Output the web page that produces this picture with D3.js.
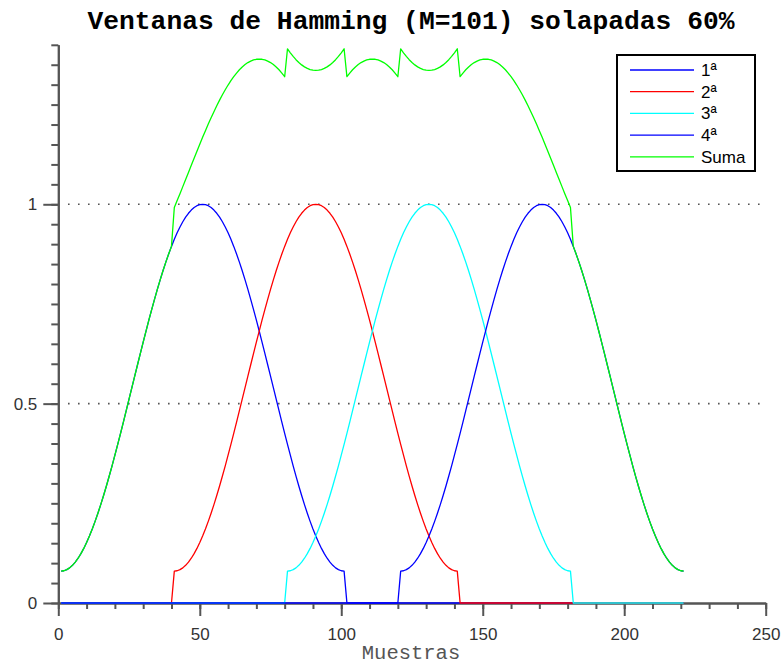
<!DOCTYPE html>
<html>
<head>
<meta charset="utf-8">
<script src="https://cdn.jsdelivr.net/npm/d3@7"></script>
<style>
html,body{margin:0;padding:0;background:#fff;}
</style>
</head>
<body>
<svg id="chart" width="781" height="666"></svg>
<script>
// Hamming window values (M=101), sample n = 0..100
const hamming = [
0.0800,0.0809,0.0836,0.0881,0.0945,0.1025,0.1123,0.1238,0.1369,0.1516,
0.1679,0.1856,0.2047,0.2251,0.2468,0.2696,0.2935,0.3184,0.3441,0.3707,
0.3979,0.4256,0.4538,0.4824,0.5111,0.5400,0.5689,0.5976,0.6262,0.6544,
0.6821,0.7093,0.7359,0.7616,0.7865,0.8104,0.8332,0.8549,0.8753,0.8944,
0.9121,0.9284,0.9431,0.9562,0.9677,0.9775,0.9855,0.9918,0.9964,0.9991,
1.0000,
0.9991,0.9964,0.9918,0.9855,0.9775,0.9677,0.9562,0.9431,0.9284,0.9121,
0.8944,0.8753,0.8549,0.8332,0.8104,0.7865,0.7616,0.7359,0.7093,0.6821,
0.6544,0.6262,0.5976,0.5689,0.5400,0.5111,0.4824,0.4538,0.4256,0.3979,
0.3707,0.3441,0.3184,0.2935,0.2696,0.2468,0.2251,0.2047,0.1856,0.1679,
0.1516,0.1369,0.1238,0.1123,0.1025,0.0945,0.0881,0.0836,0.0809,0.0800
];
const windowStarts = [1, 41, 81, 121];   // first sample of each window
const sampleFirst = 1, sampleLast = 221;
const seriesNames = ["1ª", "2ª", "3ª", "4ª", "Suma"];
const seriesColors = ["#0000ff", "#ff0000", "#00ffff", "#0000ff", "#00ff00"];
const xTicksMajor = [0, 50, 100, 150, 200, 250];
const yTicksMajor = [0, 0.5, 1];
const yGrid = [0.5, 1];

const title = "Ventanas de Hamming (M=101) solapadas 60%";
const xLabel = "Muestras";

// build series
const samples = d3.range(sampleFirst, sampleLast + 1);
const windows = windowStarts.map(s => samples.map(x => {
  const n = x - s;
  return {x, y: (n >= 0 && n < hamming.length) ? hamming[n] : 0};
}));
const suma = samples.map((x, i) => ({x, y: d3.sum(windows, w => w[i].y)}));
const allSeries = [...windows, suma];

const svg = d3.select("#chart");
svg.append("rect").attr("width", 781).attr("height", 666).attr("fill", "#fff");

const x = d3.scaleLinear().domain([0, 250]).range([58.3, 765.7]);
const y = d3.scaleLinear().domain([0, 1.4]).range([603, 44.8]);

// grid
svg.append("g").selectAll("line").data(yGrid).join("line")
  .attr("x1", 68).attr("x2", 766)
  .attr("y1", d => y(d)).attr("y2", d => y(d))
  .attr("stroke", "#555").attr("stroke-width", 1.6)
  .attr("stroke-dasharray", "1.6 8.4");

const axisColor = "#555";
function styleAxis(g) {
  g.selectAll("path.domain").attr("stroke", axisColor).attr("stroke-width", 2);
  g.selectAll(".tick line").attr("stroke", axisColor).attr("stroke-width", 2);
  g.selectAll(".tick text").attr("fill", "#333")
    .style("font-family", "'Liberation Sans', Arial, sans-serif").style("font-size", "17px");
}

// minor y ticks
const gyMinor = svg.append("g").attr("transform", `translate(${x(0)},0)`)
  .call(d3.axisLeft(y).tickValues(d3.range(0, 29).map(i => i * 0.05)).tickSize(7).tickSizeOuter(0).tickFormat(""));
styleAxis(gyMinor);
const gy = svg.append("g").attr("transform", `translate(${x(0)},0)`)
  .call(d3.axisLeft(y).tickValues(yTicksMajor).tickSize(15).tickSizeOuter(0).tickPadding(6)
    .tickFormat(d => d === 0 ? "0" : String(d)));
styleAxis(gy);

// minor x ticks
const gxMinor = svg.append("g").attr("transform", `translate(0,${y(0)})`)
  .call(d3.axisBottom(x).tickValues(d3.range(0, 26).map(i => i * 10)).tickSize(6).tickSizeOuter(0).tickFormat(""));
styleAxis(gxMinor);
const gx = svg.append("g").attr("transform", `translate(0,${y(0)})`)
  .call(d3.axisBottom(x).tickValues(xTicksMajor).tickSize(13).tickSizeOuter(0).tickPadding(12).tickFormat(d3.format("d")));
styleAxis(gx);

// lines
const line = d3.line().x(d => x(d.x)).y(d => y(d.y));
svg.append("g").selectAll("path").data(allSeries).join("path")
  .attr("d", line)
  .attr("fill", "none")
  .attr("stroke", (d, i) => seriesColors[i])
  .attr("stroke-width", 1.3)
  .attr("stroke-linejoin", "round");

// title
svg.append("text").attr("x", 411).attr("y", 29).attr("text-anchor", "middle")
  .style("font-family", "'Liberation Mono', 'Courier New', monospace")
  .style("font-weight", "bold").style("font-size", "26.3px").attr("fill", "#000")
  .text(title);

// x label
svg.append("text").attr("x", 411).attr("y", 659).attr("text-anchor", "middle")
  .style("font-family", "'Liberation Mono', 'Courier New', monospace")
  .style("font-size", "20.5px").attr("fill", "#555")
  .text(xLabel);

// legend
const lg = svg.append("g");
lg.append("rect").attr("x", 617).attr("y", 55).attr("width", 138).attr("height", 116)
  .attr("fill", "#fff").attr("stroke", "#000").attr("stroke-width", 2);
seriesNames.forEach((name, i) => {
  const ly = 70 + i * 21.7;
  lg.append("line").attr("x1", 630).attr("x2", 694).attr("y1", ly).attr("y2", ly)
    .attr("stroke", seriesColors[i]).attr("stroke-width", 1.3);
  lg.append("text").attr("x", 701).attr("y", ly + 6)
    .style("font-family", "'Liberation Sans', Arial, sans-serif").style("font-size", "17px")
    .attr("fill", "#000").text(name);
});
</script>
</body>
</html>
